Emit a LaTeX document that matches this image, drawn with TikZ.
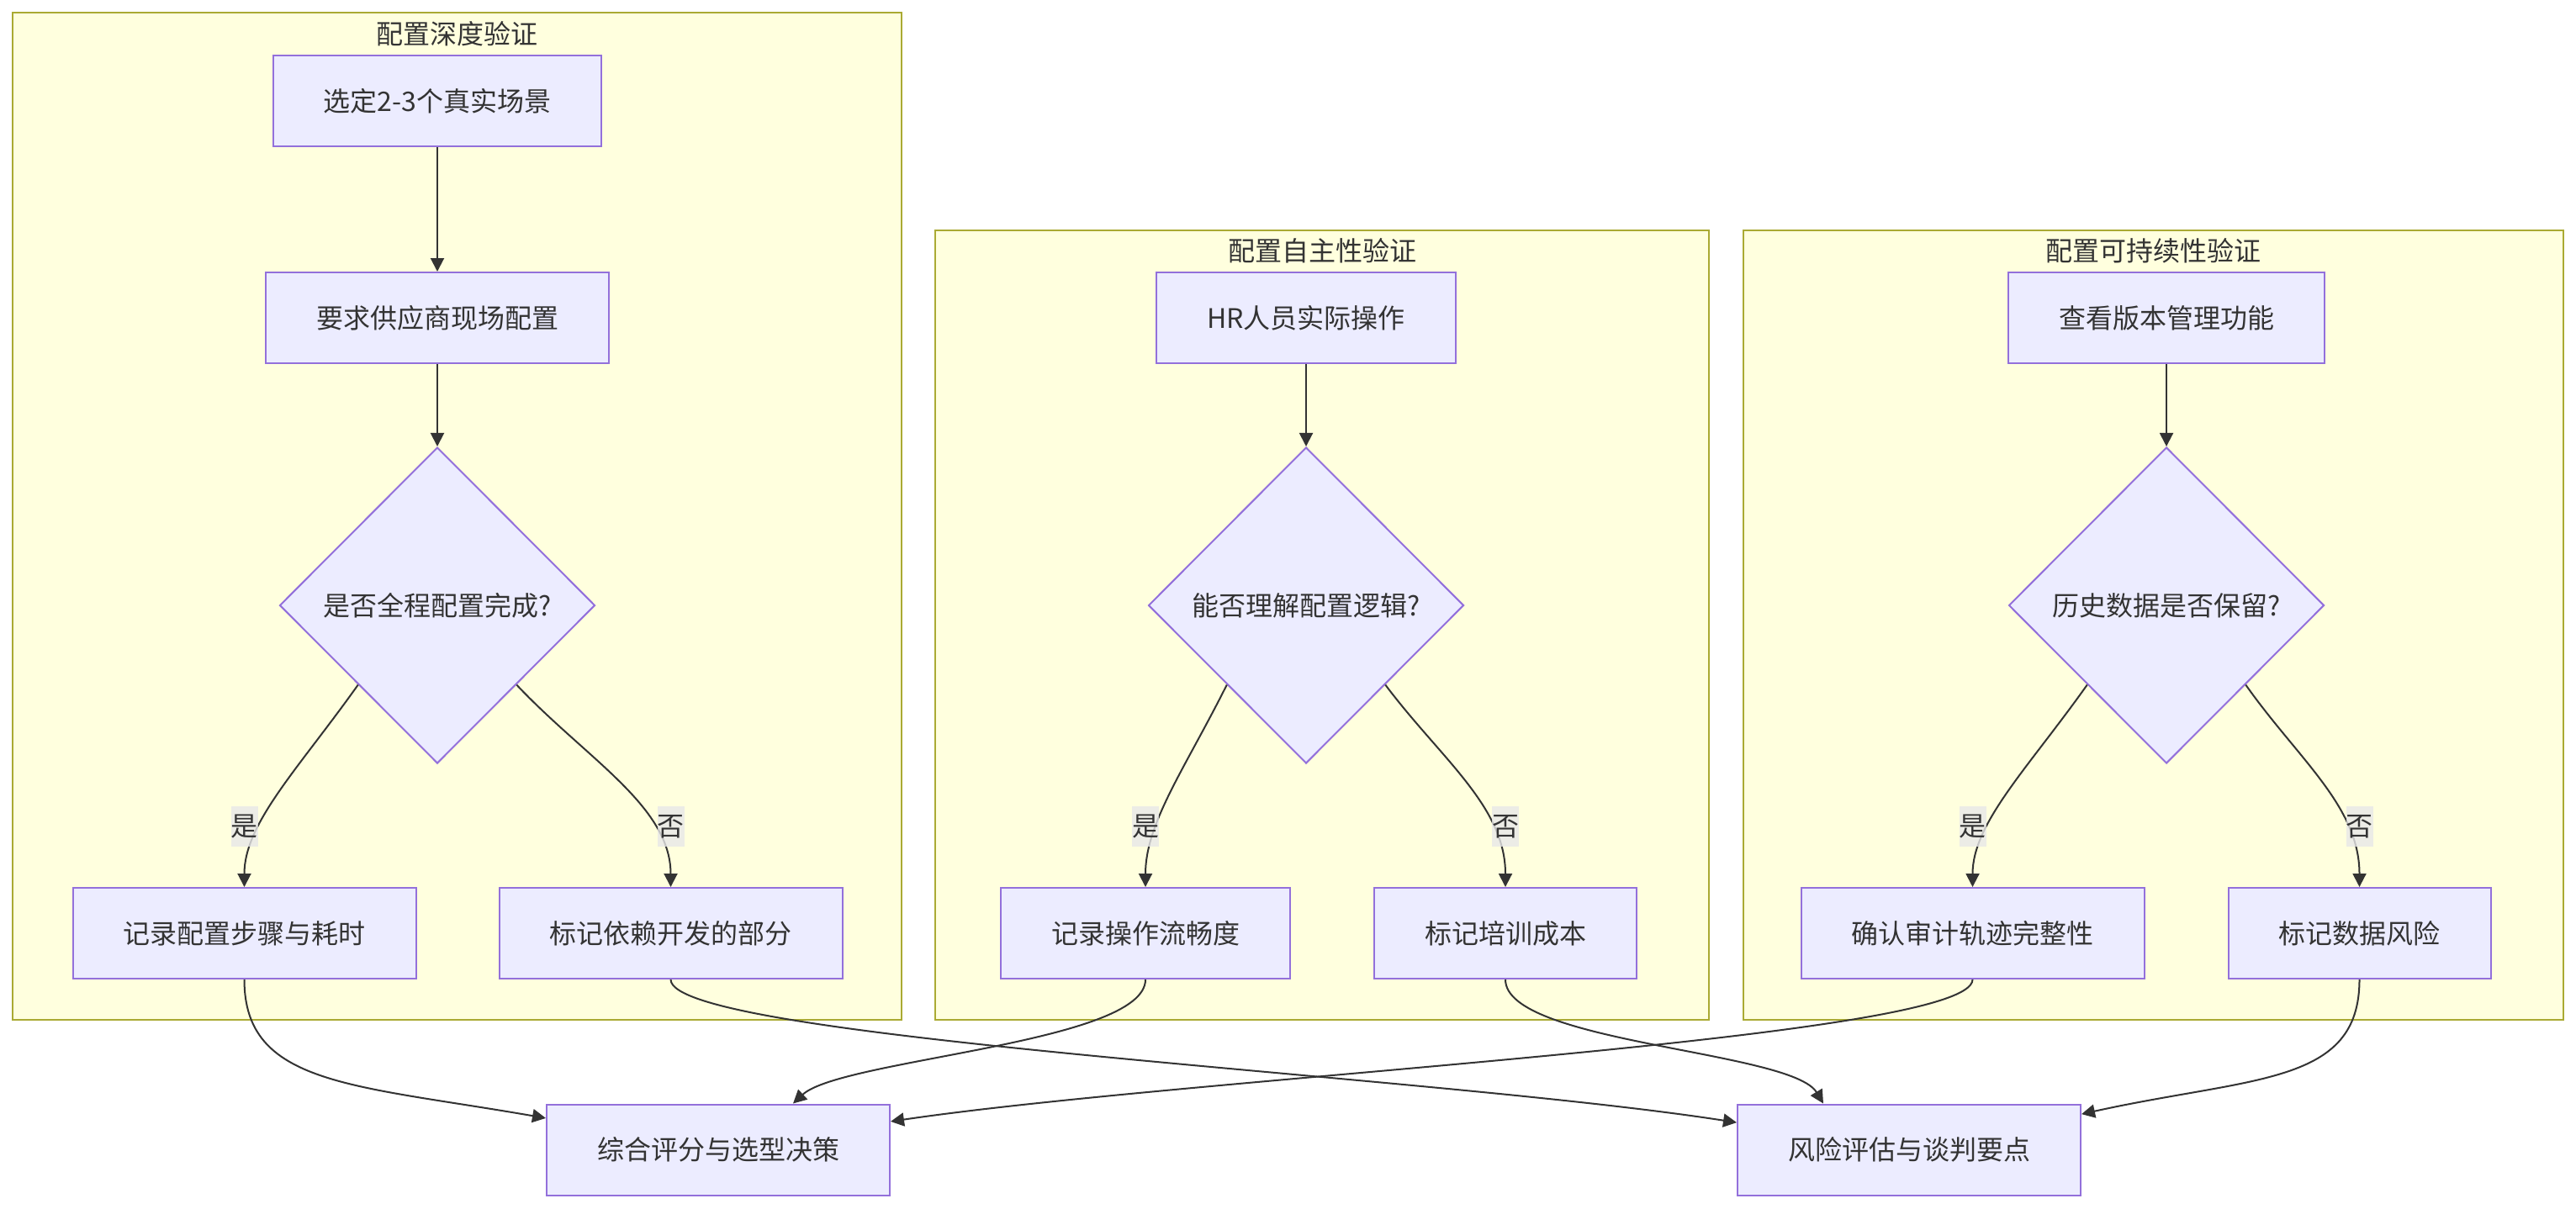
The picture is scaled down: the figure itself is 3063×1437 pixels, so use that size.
\documentclass[tikz,border=0pt]{standalone}
\usepackage{fontspec}
\setmainfont{Noto Sans CJK SC}
\usetikzlibrary{shapes.geometric,arrows.meta}
\definecolor{grpfill}{HTML}{FFFFDE}
\definecolor{grpline}{HTML}{AAAA33}
\definecolor{nodefill}{HTML}{ECECFF}
\definecolor{nodeline}{HTML}{9370DB}
\definecolor{ink}{HTML}{333333}
\definecolor{lblfill}{HTML}{E8E8E8}
\newcommand{\txt}{\fontsize{8pt}{10pt}\selectfont}

\begin{document}
\begin{tikzpicture}[x=0.25pt,y=-0.25pt,
  box/.style={draw=nodeline,fill=nodefill,line width=0.5pt,minimum height=27pt,inner xsep=15pt,inner ysep=0pt,text=ink,font=\txt},
  decision/.style={diamond,aspect=1,draw=nodeline,fill=nodefill,line width=0.5pt,minimum width=93.75pt,minimum height=94pt,inner sep=0pt,text=ink,font=\txt},
  grp/.style={draw=grpline,fill=grpfill,line width=0.5pt},
  grptitle/.style={text=ink,font=\txt,inner sep=0pt},
  lbl/.style={fill=lblfill,fill opacity=0.8,text opacity=1,inner sep=0pt,minimum width=8pt,minimum height=12pt,text=ink,font=\txt},
  arr/.style={draw=ink,line width=0.5pt,-{Triangle[length=4pt,width=4pt]}}]
\fill[white] (0,0) rectangle (3063,1437);
\useasboundingbox (0,0) rectangle (3063,1437);

\draw[grp] (15,15) rectangle (1072,1213);
\draw[grp] (1112,274) rectangle (2032,1213);
\draw[grp] (2073,274) rectangle (3048,1213);
\node[grptitle] (t1) at (543.5,40) {配置深度验证};
\node[grptitle] (t2) at (1572,298) {配置自主性验证};
\node[grptitle] (t3) at (2560.5,298) {配置可持续性验证};

% depth
\node[box] (a) at (520,120) {选定2-3个真实场景};
\node[box] (b) at (520,378) {要求供应商现场配置};
\node[decision] (d1) at (520,720) {是否全程配置完成?};
\node[box] (c) at (290.5,1110) {记录配置步骤与耗时};
\node[box] (d) at (797.5,1110) {标记依赖开发的部分};

% autonomy
\node[box] (e) at (1553,378) {HR人员实际操作};
\node[decision] (d2) at (1553,720) {能否理解配置逻辑?};
\node[box] (f) at (1362,1110) {记录操作流畅度};
\node[box] (g) at (1790,1110) {标记培训成本};

% sustainability
\node[box] (h) at (2576,378) {查看版本管理功能};
\node[decision] (d3) at (2576,720) {历史数据是否保留?};
\node[box] (i) at (2345.5,1110) {确认审计轨迹完整性};
\node[box] (j) at (2805.5,1110) {标记数据风险};

\node[box] (k) at (854,1367.5) {综合评分与选型决策};
\node[box] (l) at (2270,1367.5) {风险评估与谈判要点};

\draw[arr] (a) -- (b);
\draw[arr] (b) -- (d1);
\draw[arr] (d1.south west) .. controls +(-71,100) and +(0,-76) .. (c.north)
  node[lbl] (y1) at ([yshift=18pt]c.north) {是};
\draw[arr] (d1.south east) .. controls +(83,88) and +(0,-96) .. (d.north)
  node[lbl] (n1) at ([yshift=18pt]d.north) {否};

\draw[arr] (e) -- (d2);
\draw[arr] (d2.south west) .. controls +(-50,100) and +(0,-76) .. (f.north)
  node[lbl] (y2) at ([yshift=18pt]f.north) {是};
\draw[arr] (d2.south east) .. controls +(66,88) and +(0,-96) .. (g.north)
  node[lbl] (n2) at ([yshift=18pt]g.north) {否};

\draw[arr] (h) -- (d3);
\draw[arr] (d3.south west) .. controls +(-71,100) and +(0,-76) .. (i.north)
  node[lbl] (y3) at ([yshift=18pt]i.north) {是};
\draw[arr] (d3.south east) .. controls +(62,88) and +(0,-96) .. (j.north)
  node[lbl] (n3) at ([yshift=18pt]j.north) {否};

\draw[arr] (c.south) .. controls +(0,126) and +(-230,-40) .. ([yshift=9.4pt]k.west);
\draw[arr] (f.south) .. controls +(0,76) and +(57,-53) .. ([xshift=22.25pt]k.north);
\draw[arr] (i.south) .. controls +(0,71) and +(365,-54) .. ([yshift=8.4pt]k.east);
\draw[arr] (d.south) .. controls +(0,71) and +(-367,-57) .. ([yshift=8.1pt]l.west);
\draw[arr] (g.south) .. controls +(0,76) and +(-38,-63) .. ([xshift=-25.5pt]l.north);
\draw[arr] (j.south) .. controls +(0,126) and +(204,-45) .. ([yshift=10.6pt]l.east);
\end{tikzpicture}
\end{document}
